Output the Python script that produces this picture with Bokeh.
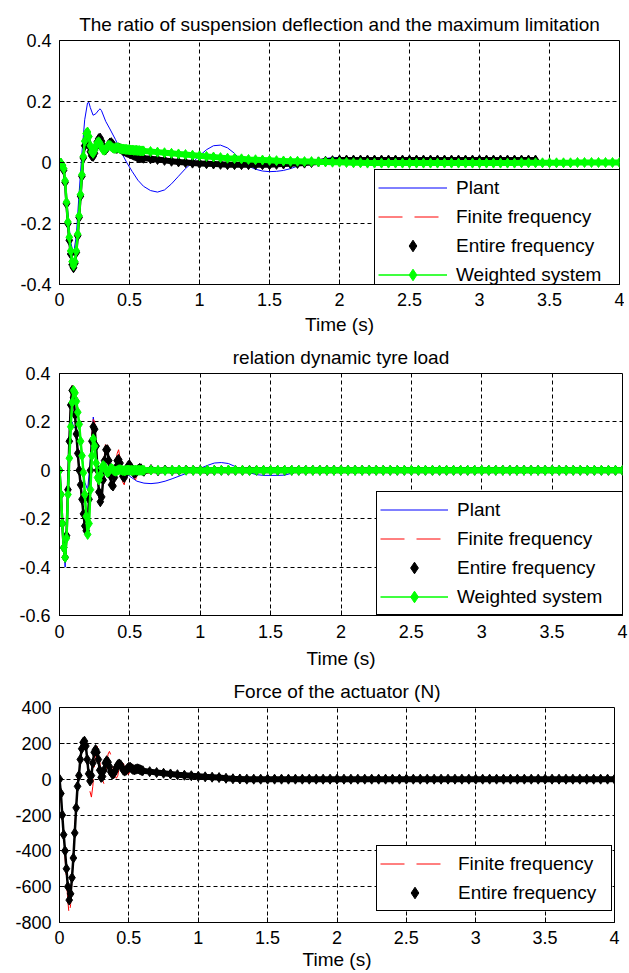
from bokeh.plotting import figure
from bokeh.layouts import column
from bokeh.models import Legend, LegendItem, Range1d, FixedTicker
from bokeh.embed import file_html
from bokeh.resources import INLINE

FONT = "Liberation Sans"

# ---------------- sampling grids ----------------
T_EARLY = [round(0.01 * i, 2) for i in range(61)]          # 0.00 .. 0.60
T_TAIL = [round(0.65 + 0.05 * i, 2) for i in range(68)]    # 0.65 .. 4.00
T_TAIL_E1 = T_TAIL[:56]                                      # 0.65 .. 3.40

X_TICKS = [0, 0.5, 1, 1.5, 2, 2.5, 3, 3.5, 4]
X_LABELS = ["0", "0.5", "1", "1.5", "2", "2.5", "3", "3.5", "4"]

# ---------------- panel 1: suspension deflection ratio ----------------
TITLE1 = "The ratio of suspension deflection and the maximum limitation"
Y1_TICKS = [-0.4, -0.2, 0, 0.2, 0.4]
Y1_LABELS = ["-0.4", "-0.2", "0", "0.2", "0.4"]

P1_T = [0, 0.02, 0.04, 0.06, 0.08, 0.10, 0.12, 0.14, 0.16, 0.18, 0.20,
        0.21, 0.22, 0.24, 0.26, 0.28, 0.29, 0.30, 0.33, 0.36, 0.40,
        0.44, 0.48, 0.52, 0.56, 0.60,
        0.65, 0.70, 0.75, 0.80, 0.85, 0.90, 0.95, 1.00, 1.05, 1.10,
        1.15, 1.20, 1.25, 1.30, 1.35, 1.40, 1.45, 1.50, 1.55, 1.60,
        1.65, 1.70, 1.75, 1.80, 1.85, 1.90, 1.95, 2.00, 2.05, 2.10,
        2.15, 2.20, 2.5, 3.0, 3.5, 4.0]
P1_V = [0, -0.01, -0.07, -0.17, -0.26, -0.30, -0.24, -0.10, 0.03, 0.14, 0.195,
        0.197, 0.18, 0.155, 0.16, 0.172, 0.176, 0.17, 0.135, 0.11, 0.075,
        0.035, 0.0, -0.03, -0.058, -0.078,
        -0.092, -0.097, -0.09, -0.07, -0.045, -0.02, 0.0, 0.022, 0.042, 0.055,
        0.057, 0.048, 0.030, 0.005, -0.012, -0.022, -0.028, -0.030, -0.029, -0.026,
        -0.020, -0.012, -0.004, 0.002, 0.008, 0.013, 0.016, 0.016, 0.015, 0.012,
        0.007, 0.003, -0.002, 0.001, 0.0, 0.0]

F1_EARLY = [0.000, -0.003, -0.011, -0.028, -0.070, -0.140, -0.205, -0.258, -0.302, -0.333,
            -0.342, -0.328, -0.293, -0.238, -0.178, -0.108, -0.043, 0.017, 0.058, 0.078,
            0.073, 0.057, 0.036, 0.022, 0.020, 0.031, 0.052, 0.071, 0.082, 0.085,
            0.074, 0.057, 0.045, 0.042, 0.049, 0.060, 0.066, 0.067, 0.061, 0.052,
            0.047, 0.046, 0.048, 0.047, 0.044, 0.040, 0.038, 0.036, 0.034, 0.032,
            0.030, 0.028, 0.026, 0.024, 0.022, 0.020, 0.018, 0.017, 0.016, 0.015,
            0.014]
F1_TAIL_T = [0.7, 0.8, 0.9, 1.0, 1.2, 1.4, 1.6, 1.8, 2.0, 2.5, 3.0, 3.5, 4.0]
F1_TAIL = [0.010, 0.004, 0.000, -0.003, -0.007, -0.007, -0.005, 0.000, 0.004, 0.002, 0.001, 0.000, 0.000]

E1_EARLY = [0.000, -0.003, -0.010, -0.025, -0.065, -0.135, -0.200, -0.255, -0.300, -0.335,
            -0.345, -0.330, -0.295, -0.240, -0.180, -0.110, -0.045, 0.015, 0.055, 0.075,
            0.070, 0.055, 0.035, 0.022, 0.020, 0.030, 0.050, 0.068, 0.078, 0.080,
            0.070, 0.055, 0.045, 0.042, 0.048, 0.058, 0.064, 0.065, 0.060, 0.052,
            0.047, 0.046, 0.048, 0.047, 0.044, 0.040, 0.038, 0.036, 0.034, 0.032,
            0.030, 0.028, 0.026, 0.024, 0.022, 0.020, 0.018, 0.017, 0.016, 0.015,
            0.014]
E1_TAIL = [0.012, 0.010, 0.007, 0.004, 0.002, 0.000, -0.002, -0.003, -0.004, -0.005,
           -0.006, -0.007, -0.007, -0.007, -0.007, -0.007, -0.007, -0.007, -0.006, -0.005,
           -0.004, -0.003, -0.002, 0.000, 0.002, 0.004, 0.006, 0.008, 0.008, 0.008,
           0.008, 0.008, 0.008, 0.008, 0.008, 0.008, 0.008, 0.008, 0.008, 0.008,
           0.008, 0.008, 0.008, 0.008, 0.008, 0.008, 0.008, 0.008, 0.008, 0.008,
           0.008, 0.008, 0.008, 0.008, 0.008, 0.008]

W1_EARLY = [0.000, -0.002, -0.008, -0.020, -0.060, -0.130, -0.195, -0.245, -0.290, -0.325,
            -0.338, -0.325, -0.290, -0.235, -0.175, -0.105, -0.040, 0.020, 0.070, 0.095,
            0.100, 0.085, 0.055, 0.035, 0.030, 0.040, 0.055, 0.065, 0.068, 0.062,
            0.050, 0.042, 0.040, 0.044, 0.052, 0.056, 0.056, 0.052, 0.048, 0.046,
            0.047, 0.049, 0.048, 0.046, 0.045, 0.044, 0.044, 0.043, 0.043, 0.042,
            0.042, 0.041, 0.041, 0.040, 0.040, 0.040, 0.039, 0.039, 0.038, 0.038,
            0.038]
W1_TAIL = [0.036, 0.034, 0.032, 0.030, 0.028, 0.026, 0.024, 0.022, 0.020, 0.018,
           0.016, 0.014, 0.013, 0.012, 0.010, 0.009, 0.008, 0.007, 0.006, 0.005,
           0.004, 0.004, 0.003, 0.003, 0.002, 0.002, 0.001, 0.001,
           0.000, -0.001, -0.001, -0.002, -0.002, -0.002, -0.002, -0.002, -0.002, -0.002,
           -0.002, -0.002, -0.002, -0.002, -0.002, -0.002, -0.002, -0.002, -0.002, -0.002,
           -0.002, -0.002, -0.002, -0.002, -0.002, -0.001, -0.001, -0.001, -0.001, -0.001,
           -0.001, -0.001, -0.001, 0.000, 0.000, 0.000, 0.000, 0.000, 0.000, 0.000]

# ---------------- panel 2: dynamic tyre load ----------------
TITLE2 = "relation dynamic tyre load"
Y2_TICKS = [-0.6, -0.4, -0.2, 0, 0.2, 0.4]
Y2_LABELS = ["-0.6", "-0.4", "-0.2", "0", "0.2", "0.4"]

P2_T = [0, 0.02, 0.04, 0.06, 0.08, 0.09, 0.10, 0.12, 0.14, 0.16,
        0.18, 0.20, 0.22, 0.24, 0.25, 0.27, 0.29, 0.31, 0.33, 0.35,
        0.38, 0.41, 0.44, 0.47, 0.50, 0.55, 0.60, 0.65, 0.70, 0.75,
        0.80, 0.85, 0.90, 0.95, 1.00, 1.05, 1.10, 1.15, 1.20, 1.25,
        1.30, 1.35, 1.40, 1.45, 1.50, 1.55, 1.60, 1.65, 1.70, 2.0,
        2.5, 3.0, 3.5, 4.0]
P2_V = [0, -0.22, -0.40, -0.12, 0.15, 0.20, 0.18, 0.17, 0.15, 0.06,
        -0.05, -0.08, 0.05, 0.22, 0.18, -0.03, 0.02, -0.01, 0.015, -0.01,
        0.005, -0.005, 0.0, -0.01, -0.025, -0.045, -0.053, -0.055, -0.052, -0.045,
        -0.035, -0.024, -0.013, -0.003, 0.008, 0.02, 0.03, 0.032, 0.028, 0.015,
        0.002, -0.01, -0.018, -0.021, -0.021, -0.021, -0.02, -0.012, -0.004, 0.0,
        0.0, 0.0, 0.0, 0.0]

F2_EARLY = [0.000, -0.100, -0.230, -0.330, -0.370, -0.280, -0.080, 0.130, 0.290, 0.350,
            0.310, 0.230, 0.140, 0.060, -0.010, -0.070, -0.130, -0.190, -0.230, -0.250,
            -0.210, -0.100, 0.030, 0.150, 0.210, 0.200, 0.110, 0.000, -0.100, -0.150,
            -0.120, -0.030, 0.070, 0.130, 0.120, 0.050, -0.030, -0.070, -0.070, -0.030,
            0.030, 0.070, 0.085, 0.050, 0.000, -0.050, -0.060, -0.030, 0.010, 0.035,
            0.040, 0.020, -0.010, -0.030, -0.040, -0.020, 0.005, 0.020, 0.020, 0.005,
            -0.010]
F2_TAIL_T = [0.65, 0.7, 0.8, 0.9, 1.0, 1.5, 2.0, 3.0, 4.0]
F2_TAIL = [-0.012, -0.005, 0.002, 0.0, 0.0, 0.0, 0.0, 0.0, 0.0]

E2_EARLY = [0.000, -0.100, -0.220, -0.320, -0.360, -0.270, -0.080, 0.120, 0.270, 0.330,
            0.300, 0.230, 0.150, 0.070, 0.000, -0.060, -0.120, -0.180, -0.230, -0.250,
            -0.220, -0.120, 0.000, 0.120, 0.180, 0.170, 0.100, 0.000, -0.090, -0.130,
            -0.110, -0.040, 0.040, 0.085, 0.085, 0.040, -0.020, -0.060, -0.065, -0.030,
            0.010, 0.040, 0.045, 0.030, 0.000, -0.025, -0.030, -0.015, 0.005, 0.020,
            0.020, 0.010, -0.005, -0.012, -0.010, -0.004, 0.004, 0.008, 0.006, 0.000,
            -0.004]
E2_TAIL = [0.003, -0.002, 0.001, -0.001, 0.000, 0.001, 0.000, 0.000, -0.001, 0.000,
           0.000, 0.000, 0.000, 0.000, 0.000, 0.000, 0.000, 0.000, 0.000, 0.000,
           0.000, 0.000, 0.000, 0.000, 0.000, 0.000, 0.000, 0.000, 0.000, 0.000,
           0.000, 0.000, 0.000, 0.000, 0.000, 0.000, 0.000, 0.000, 0.000, 0.000,
           0.000, 0.000, 0.000, 0.000, 0.000, 0.000, 0.000, 0.000, 0.000, 0.000,
           0.000, 0.000, 0.000, 0.000, 0.000, 0.000, 0.000, 0.000, 0.000, 0.000,
           0.000, 0.000, 0.000, 0.000, 0.000, 0.000, 0.000, 0.000]

W2_EARLY = [0.000, -0.100, -0.220, -0.320, -0.360, -0.280, -0.100, 0.050, 0.180, 0.280,
            0.330, 0.320, 0.285, 0.240, 0.190, 0.120, 0.060, -0.010, -0.100, -0.190,
            -0.265, -0.220, -0.080, 0.060, 0.130, 0.100, 0.030, -0.030, -0.040, -0.020,
            0.010, 0.020, 0.015, 0.000, -0.010, -0.005, 0.005, 0.008, 0.003, -0.003,
            -0.004, -0.001, 0.002, 0.003, 0.001, -0.001, -0.002, -0.001, 0.001, 0.001,
            0.000, 0.000, -0.001, 0.000, 0.001, 0.000, 0.000, 0.000, 0.000, 0.000,
            0.000]
W2_TAIL = [0.001, 0.000, -0.001, 0.000, 0.001, 0.000, 0.000, -0.001, 0.000, 0.000,
           0.000, 0.001, 0.000, 0.000, -0.001, 0.000, 0.000, 0.000, 0.000, 0.000,
           0.000, 0.000, 0.000, 0.000, 0.000, 0.000, 0.000, 0.000, 0.000, 0.000,
           0.000, 0.000, 0.000, 0.000, 0.000, 0.000, 0.000, 0.000, 0.000, 0.000,
           0.000, 0.000, 0.000, 0.000, 0.000, 0.000, 0.000, 0.000, 0.000, 0.000,
           0.000, 0.000, 0.000, 0.000, 0.000, 0.000, 0.000, 0.000, 0.000, 0.000,
           0.000, 0.000, 0.000, 0.000, 0.000, 0.000, 0.000, 0.000]

# ---------------- panel 3: actuator force ----------------
TITLE3 = "Force of the actuator (N)"
Y3_TICKS = [-800, -600, -400, -200, 0, 200, 400]
Y3_LABELS = ["-800", "-600", "-400", "-200", "0", "200", "400"]

F3_EARLY = [0, -100, -220, -330, -440, -560, -680, -760, -700, -560,
            -420, -280, -140, -20, 60, 120, 170, 200, 205, 170,
            90, 10, -70, -100, -40, 60, 150, 185, 160, 100,
            40, -5, -25, 10, 80, 140, 155, 135, 90, 45,
            15, 5, 20, 65, 100, 108, 90, 60, 38, 28,
            30, 50, 75, 88, 89, 75, 60, 48, 44, 50,
            58]
F3_TAIL_T = [0.65, 0.7, 0.8, 0.9, 1.0, 1.2, 1.5, 2.0, 3.0, 4.0]
F3_TAIL = [45, 36, 28, 21, 15, 5, 0, 0, 0, 0]

E3_EARLY = [0, -80, -200, -310, -400, -500, -600, -675, -640, -550,
            -440, -300, -160, -40, 20, 110, 170, 205, 212, 185,
            110, 30, -10, 20, 90, 150, 165, 150, 110, 50,
            10, 15, 50, 90, 103, 95, 70, 40, 28, 30,
            45, 65, 80, 85, 80, 65, 50, 45, 50, 60,
            67, 66, 60, 54, 52, 55, 58, 57, 53, 49,
            47]
E3_TAIL = [42, 37, 33, 29, 25, 22, 19, 16, 13, 11,
           9, 5, 2, 1, 0, 0, 0, 0, 0, 0,
           0, 0, 0, 0, 0, 0, 0, 0, 0, 0,
           0, 0, 0, 0, 0, 0, 0, 0, 0, 0,
           0, 0, 0, 0, 0, 0, 0, 0, 0, 0,
           0, 0, 0, 0, 0, 0, 0, 0, 0, 0,
           0, 0, 0, 0, 0, 0, 0, 0]

for name, arr, n in [("E1_EARLY", E1_EARLY, 61), ("F1_EARLY", F1_EARLY, 61), ("W1_EARLY", W1_EARLY, 61),
                     ("W1_TAIL", W1_TAIL, 68), ("E1_TAIL", E1_TAIL, 56),
                     ("E2_EARLY", E2_EARLY, 61), ("F2_EARLY", F2_EARLY, 61), ("W2_EARLY", W2_EARLY, 61),
                     ("E2_TAIL", E2_TAIL, 68), ("W2_TAIL", W2_TAIL, 68),
                     ("E3_EARLY", E3_EARLY, 61), ("F3_EARLY", F3_EARLY, 61), ("E3_TAIL", E3_TAIL, 68)]:
    assert len(arr) == n, (name, len(arr), n)
assert len(P1_T) == len(P1_V) and len(P2_T) == len(P2_V)
assert len(F1_TAIL_T) == len(F1_TAIL) and len(F2_TAIL_T) == len(F2_TAIL) and len(F3_TAIL_T) == len(F3_TAIL)

BLUE = "#0000ff"
RED = "#ff0000"
BLACK = "#000000"
GREEN = "#00ff00"
MSIZE = 10
CHAIN = 2.5
BAND = 6


def make_fig(title, yticks, ylabels, frame_w, frame_h, mb_left, mb_right, mb_top, mb_bottom,
             title_standoff, label_standoff, axis_label_standoff):
    p = figure(frame_width=frame_w, frame_height=frame_h,
               x_range=Range1d(0, 4), y_range=Range1d(yticks[0], yticks[-1]),
               output_backend="svg", toolbar_location=None,
               min_border_left=mb_left, min_border_right=mb_right,
               min_border_top=mb_top, min_border_bottom=mb_bottom,
               background_fill_color="white", border_fill_color="white")
    p.title.text = title
    p.title.align = "center"
    p.title.text_font = FONT
    p.title.text_font_size = "19px"
    p.title.text_font_style = "normal"
    p.title.text_color = "black"
    p.title.standoff = title_standoff

    p.outline_line_color = "black"
    p.outline_line_width = 1
    p.outline_line_alpha = 1

    p.xaxis.ticker = FixedTicker(ticks=X_TICKS)
    p.xaxis.major_label_overrides = {float(k): v for k, v in zip(X_TICKS, X_LABELS)}
    p.yaxis.ticker = FixedTicker(ticks=yticks)
    p.yaxis.major_label_overrides = {float(k): v for k, v in zip(yticks, ylabels)}
    p.xaxis.axis_label = "Time (s)"
    p.xaxis.axis_label_text_font = FONT
    p.xaxis.axis_label_text_font_size = "19px"
    p.xaxis.axis_label_text_font_style = "normal"
    p.xaxis.axis_label_text_color = "black"
    p.xaxis.axis_label_standoff = axis_label_standoff
    for ax in (p.xaxis, p.yaxis):
        ax.major_label_text_font = FONT
        ax.major_label_text_font_size = "18px"
        ax.major_label_text_color = "black"
        ax.major_label_standoff = label_standoff
        ax.axis_line_color = "black"
        ax.major_tick_line_color = "black"
        ax.major_tick_in = 5
        ax.major_tick_out = 0
        ax.minor_tick_line_color = None
    for g in (p.xgrid, p.ygrid):
        g.grid_line_color = "black"
        g.grid_line_alpha = 1
        g.grid_line_width = 1
        g.grid_line_dash = "4 3"
    return p


def add_legend(p, items, loc, glyph_w, label_w):
    lg = Legend(items=items, location=loc, padding=3, spacing=0, margin=0,
                glyph_width=glyph_w, glyph_height=29, label_height=29, label_width=label_w,
                label_standoff=9, label_text_font=FONT, label_text_font_size="19px",
                label_text_color="black", border_line_color="black", border_line_width=1,
                border_line_alpha=1, background_fill_color="white", background_fill_alpha=1)
    p.add_layout(lg)


def marker_series(p, t_early, v_early, t_tail, v_tail, color, with_line):
    # dense solver samples: overlapping markers form a chain early and a solid band later
    p.line(t_early, v_early, color=color, line_width=CHAIN)
    p.line([t_early[-1]] + t_tail, [v_early[-1]] + v_tail, color=color, line_width=BAND)
    t = t_early + t_tail
    v = v_early + v_tail
    rl = p.line(t, v, color=color, line_width=1.5) if with_line else None
    rm = p.scatter(t, v, marker="diamond", size=MSIZE, fill_color=color, line_color=color)
    return rl, rm


# ---------------- figure 1 ----------------
p1 = make_fig(TITLE1, Y1_TICKS, Y1_LABELS, 560, 244, 54, 10, 40, 54, 11, 8, 5)
r1p = p1.line(P1_T, P1_V, color=BLUE, line_width=1)
r1f = p1.line(T_EARLY + F1_TAIL_T, F1_EARLY + F1_TAIL, color=RED, line_width=1, line_dash="24 12")
_, r1e = marker_series(p1, T_EARLY, E1_EARLY, T_TAIL_E1, E1_TAIL, BLACK, False)
r1wl, r1wm = marker_series(p1, T_EARLY, W1_EARLY, T_TAIL, W1_TAIL, GREEN, True)
add_legend(p1, [LegendItem(label="Plant", renderers=[r1p]),
                LegendItem(label="Finite frequency", renderers=[r1f]),
                LegendItem(label="Entire frequency", renderers=[r1e]),
                LegendItem(label="Weighted system", renderers=[r1wl, r1wm])],
           (315, -9), 69, 166)

# ---------------- figure 2 ----------------
p2 = make_fig(TITLE2, Y2_TICKS, Y2_LABELS, 563, 242, 56, 9, 35, 57, 12, 9, 7)
r2p = p2.line(P2_T, P2_V, color=BLUE, line_width=1)
r2f = p2.line(T_EARLY + F2_TAIL_T, F2_EARLY + F2_TAIL, color=RED, line_width=1, line_dash="24 12")
_, r2e = marker_series(p2, T_EARLY, E2_EARLY, T_TAIL, E2_TAIL, BLACK, False)
r2wl, r2wm = marker_series(p2, T_EARLY, W2_EARLY, T_TAIL, W2_TAIL, GREEN, True)
add_legend(p2, [LegendItem(label="Plant", renderers=[r2p]),
                LegendItem(label="Finite frequency", renderers=[r2f]),
                LegendItem(label="Entire frequency", renderers=[r2e]),
                LegendItem(label="Weighted system", renderers=[r2wl, r2wm])],
           (317, 0), 68, 163)

# ---------------- figure 3 ----------------
p3 = make_fig(TITLE3, Y3_TICKS, Y3_LABELS, 555, 215, 59, 10, 34, 51, 12, 8, 2)
r3f = p3.line(T_EARLY + F3_TAIL_T, F3_EARLY + F3_TAIL, color=RED, line_width=1, line_dash="24 12")
_, r3e = marker_series(p3, T_EARLY, E3_EARLY, T_TAIL, E3_TAIL, BLACK, False)
add_legend(p3, [LegendItem(label="Finite frequency", renderers=[r3f]),
                LegendItem(label="Entire frequency", renderers=[r3e])],
           (317, 11), 69, 150)

layout = column(p1, p2, p3, spacing=0)
open("out.html", "w").write(file_html(layout, INLINE))
